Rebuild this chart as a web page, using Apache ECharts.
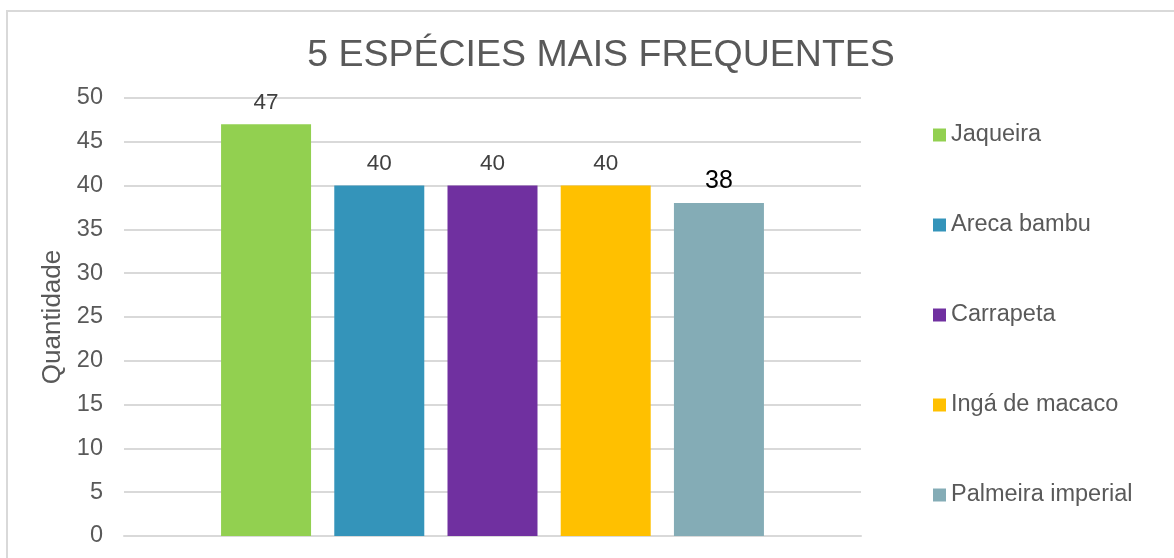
<!DOCTYPE html>
<html>
<head>
<meta charset="utf-8">
<script src="https://cdn.jsdelivr.net/npm/echarts@6/dist/echarts.min.js"></script>
<style>
  html, body { margin: 0; padding: 0; background: #fff; }
  #chart { width: 1174px; height: 558px; }
</style>
</head>
<body>
<div id="chart"></div>
<script>
// dados do gráfico
const categorias = ['Quantidade'];
const especies = ['Jaqueira', 'Areca bambu', 'Carrapeta', 'Ingá de macaco', 'Palmeira imperial'];
const quantidades = [47, 40, 40, 40, 38];
const cores = ['#92d050', '#3494ba', '#7030a0', '#ffc000', '#84acb6'];
const coresRotulo = ['#404040', '#404040', '#404040', '#404040', '#000000'];

const chart = echarts.init(document.getElementById('chart'));

const series = especies.map(function (nome, i) {
  return {
    name: nome,
    type: 'bar',
    data: [quantidades[i]],
    barWidth: 90,
    barGap: '25.8%',
    itemStyle: { color: cores[i] },
    label: {
      show: true,
      position: 'top',
      distance: 10,
      fontFamily: 'Liberation Sans',
      fontSize: i === 4 ? 25 : 22.5,
      color: coresRotulo[i]
    }
  };
});

const option = {
  animation: false,
  backgroundColor: '#ffffff',
  graphic: [{
    type: 'rect',
    shape: { x: 7, y: 11, width: 1200, height: 600 },
    style: { fill: 'none', stroke: '#d9d9d9', lineWidth: 2 },
    silent: true,
    z: -1
  }],
  title: {
    text: '5 ESPÉCIES MAIS FREQUENTES',
    left: 596,
    top: 32,
    textAlign: 'center',
    textStyle: {
      fontFamily: 'Liberation Sans',
      fontSize: 37.5,
      fontWeight: 'normal',
      color: '#595959'
    }
  },
  legend: {
    orient: 'vertical',
    left: 933,
    top: 123,
    padding: 0,
    itemWidth: 13,
    itemHeight: 13,
    itemGap: 66,
    icon: 'rect',
    textStyle: {
      fontFamily: 'Liberation Sans',
      fontSize: 23.5,
      color: '#595959',
      lineHeight: 20
    },
    data: especies
  },
  grid: {
    left: 124,
    right: 1174 - 861,
    top: 98,
    bottom: 558 - 536
  },
  xAxis: {
    type: 'category',
    data: categorias,
    axisLine: { lineStyle: { color: '#d9d9d9', width: 2 } },
    axisTick: { show: false },
    axisLabel: { show: false }
  },
  yAxis: {
    type: 'value',
    min: 0,
    max: 50,
    interval: 5,
    name: 'Quantidade',
    nameLocation: 'middle',
    nameGap: 56,
    nameTextStyle: {
      fontFamily: 'Liberation Sans',
      fontSize: 26,
      color: '#595959'
    },
    axisLine: { show: false },
    axisTick: { show: false },
    axisLabel: {
      margin: 21,
      fontFamily: 'Liberation Sans',
      fontSize: 23.5,
      color: '#595959'
    },
    splitLine: { lineStyle: { color: '#d9d9d9', width: 2 } }
  },
  series: series
};

chart.setOption(option);
</script>
</body>
</html>
